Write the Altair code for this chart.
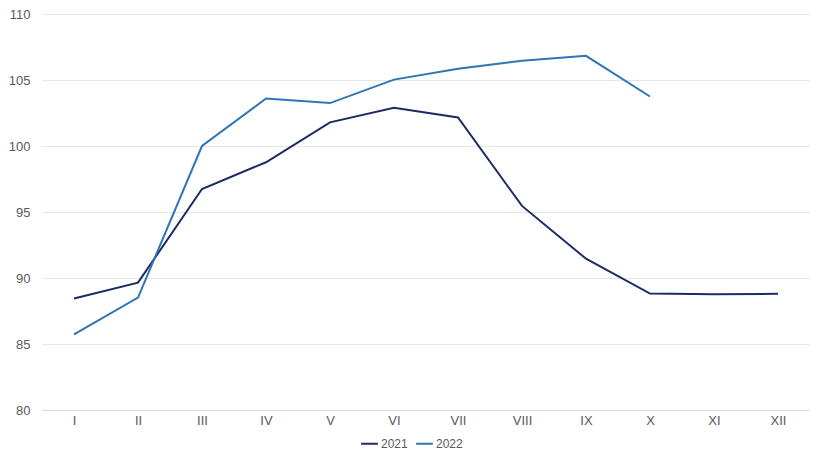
import altair as alt
import pandas as pd

months = ["I", "II", "III", "IV", "V", "VI", "VII", "VIII", "IX", "X", "XI", "XII"]
v2021 = [88.45, 89.65, 96.74, 98.77, 101.79, 102.9, 102.16, 95.46, 91.46, 88.82, 88.76, 88.8]
v2022 = [85.73, 88.52, 100.0, 103.6, 103.25, 105.03, 105.85, 106.46, 106.83, 103.75]
series = ["2021", "2022"]
colors = ["#1c2b63", "#2e75b6"]

rows = []
for m, v in zip(months, v2021):
    rows.append({"month": m, "value": v, "year": "2021"})
for m, v in zip(months, v2022):
    rows.append({"month": m, "value": v, "year": "2022"})
df = pd.DataFrame(rows)

font = "Liberation Sans"

chart = alt.Chart(df).mark_line(strokeWidth=2).encode(
    x=alt.X("month:O", sort=months, title=None,
            scale=alt.Scale(type="point", padding=0.5),
            axis=alt.Axis(labelAngle=0, ticks=False, domain=True, domainColor="#d9d9d9",
                          labelColor="#595959", labelFontSize=13, labelFont=font,
                          labelPadding=4, grid=False)),
    y=alt.Y("value:Q", title=None,
            scale=alt.Scale(domain=[80, 110], nice=False, zero=False),
            axis=alt.Axis(values=[80, 85, 90, 95, 100, 105, 110], ticks=False, domain=False,
                          gridColor="#e6e6e6", labelColor="#595959", labelFontSize=13,
                          labelFont=font, labelPadding=12)),
    color=alt.Color("year:N", scale=alt.Scale(domain=series, range=colors),
                    legend=alt.Legend(title=None, orient="none", direction="horizontal",
                                      legendX=318, legendY=420, symbolType="stroke",
                                      symbolStrokeWidth=2, symbolSize=280,
                                      labelFontSize=12, labelFont=font, labelColor="#595959",
                                      labelOffset=2, columnPadding=4)),
).properties(
    width=768, height=396,
    autosize=alt.AutoSizeParams(type="none"),
    padding={"left": 34, "top": 6, "right": 0, "bottom": 50},
).configure_view(stroke=None)

chart.save("out.html", embed_options={"renderer": "svg", "actions": False})
